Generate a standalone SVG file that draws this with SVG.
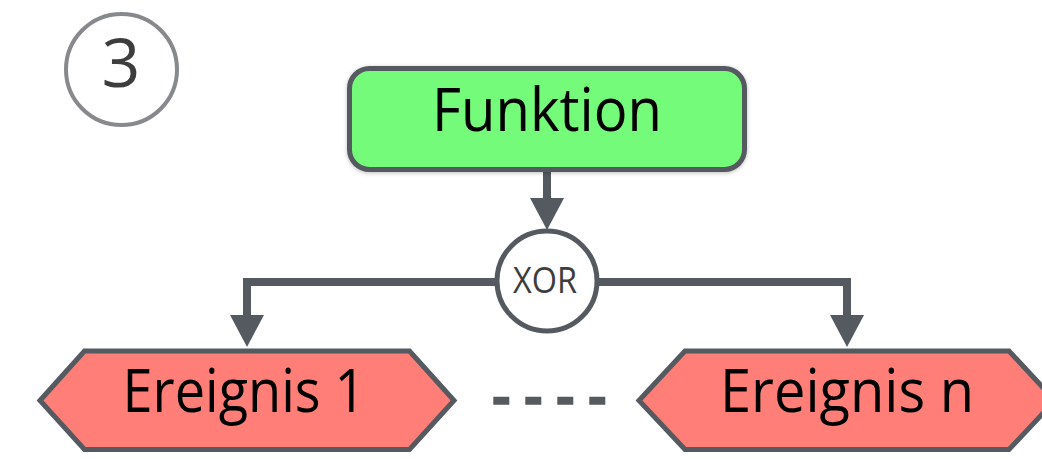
<svg xmlns="http://www.w3.org/2000/svg" width="1042" height="459" viewBox="0 0 1042 459">
  <style>
    .edge { fill: none; stroke: #555a60; stroke-width: 8; stroke-linejoin: miter; }
    .event { fill: #ff7f78; stroke: #555a60; stroke-width: 5; stroke-linejoin: miter; }
    .lbl { font-family: "Open Sans", "Noto Sans", sans-serif; fill: #000; text-anchor: middle; }
  </style>
  <defs>
    <marker id="arrow" markerUnits="userSpaceOnUse" viewBox="0 0 32 34" refX="0" refY="17" markerWidth="32" markerHeight="34" orient="auto">
      <path d="M0,0 L32,17 L0,34 Z" fill="#555a60"/>
    </marker>
    <filter id="shadow" x="-10%" y="-20%" width="120%" height="140%">
      <feDropShadow dx="0" dy="1" stdDeviation="2" flood-color="#000" flood-opacity="0.25"/>
    </filter>
  </defs>
  <rect width="1042" height="459" fill="#ffffff"/>

  <g id="step-number">
    <circle cx="121.5" cy="69.5" r="55.5" fill="#ffffff" stroke="#87898c" stroke-width="4"/>
    <text x="121" y="87" font-family="Open Sans, Noto Sans, sans-serif" font-size="68" fill="#3d3d3d" text-anchor="middle">3</text>
  </g>

  <g id="connectors">
    <path class="edge" d="M547,172 V198" marker-end="url(#arrow)"/>
    <path class="edge" d="M497,282 H247 V315" marker-end="url(#arrow)"/>
    <path class="edge" d="M597,282 H847 V315" marker-end="url(#arrow)"/>
    <path d="M493.3,400.7 H605.3" fill="none" stroke="#555a60" stroke-width="8" stroke-dasharray="16 16"/>
  </g>

  <g id="funktion">
    <rect x="349.5" y="68.5" width="395" height="101" rx="20" ry="20" fill="#75fb7a" stroke="#555a60" stroke-width="5" filter="url(#shadow)"/>
    <text class="lbl" x="547" y="131" font-size="60" textLength="230" lengthAdjust="spacingAndGlyphs">Funktion</text>
  </g>

  <g id="xor">
    <circle cx="547" cy="281" r="50" fill="#ffffff" stroke="#555a60" stroke-width="5"/>
    <text x="545" y="293" font-family="Open Sans, Noto Sans, sans-serif" font-size="37" fill="#3d3d3d" text-anchor="middle" textLength="64" lengthAdjust="spacingAndGlyphs">XOR</text>
  </g>

  <g id="ereignis-1">
    <polygon class="event" points="40,400.5 84.5,351 409.5,351 454,400.5 409.5,449.5 84.5,449.5"/>
    <text class="lbl" x="244" y="412" font-size="60" textLength="243" lengthAdjust="spacingAndGlyphs">Ereignis 1</text>
  </g>

  <g id="ereignis-n">
    <polygon class="event" points="639,400.5 685,351 1009,351 1055,400.5 1009,449.5 685,449.5"/>
    <text class="lbl" x="847" y="412" font-size="60" textLength="254" lengthAdjust="spacingAndGlyphs">Ereignis n</text>
  </g>
</svg>
